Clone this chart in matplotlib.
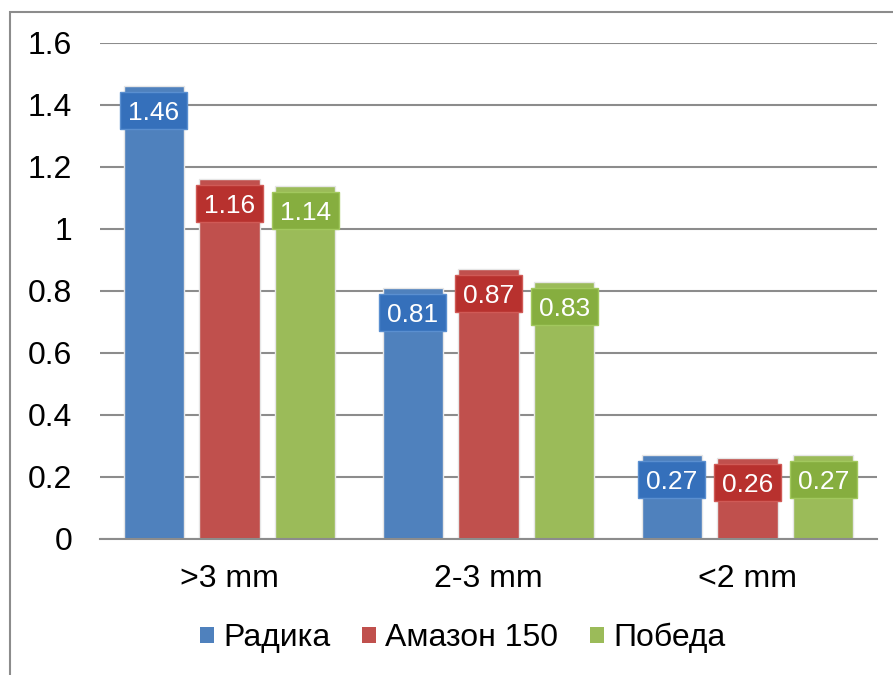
import matplotlib.pyplot as plt
from matplotlib.patches import Rectangle, Patch
import numpy as np

plt.rcParams['font.family'] = ['Liberation Sans', 'DejaVu Sans']

categories = ['>3 mm', '2-3 mm', '<2 mm']
series = ['Радика', 'Амазон 150', 'Победа']
radika = [1.46, 0.81, 0.27]
amazon = [1.16, 0.87, 0.26]
pobeda = [1.14, 0.83, 0.27]
values = [radika, amazon, pobeda]

bar_colors = ['#4f81bd', '#c0504d', '#9bbb59']
box_colors = ['#3570bb', '#b8312e', '#86ae3f']
box_edges = ['#5a8fd0', '#d05a56', '#a2c85e']

fig = plt.figure(figsize=(8.93, 6.75), dpi=100)
ax = fig.add_axes([100/893, 1-539/675, 777/893, 496/675])

# outer frame of the chart area
fig.add_artist(Rectangle((10/893, -0.2), 1.2, 1 - 12/675 + 0.2, transform=fig.transFigure,
                         fill=False, edgecolor='#8c8c8c', linewidth=1.5, clip_on=False))

x = np.arange(len(categories))
width = 0.232
step = 0.293
ymax = 1.6
px_y = ymax / 496   # data units per pixel vertically
box_w = 0.26
box_h = 37 * px_y
box_gap = 6 * px_y

for i in range(3):
    pos = x + (i - 1) * step
    ax.bar(pos, values[i], width, color=bar_colors[i], edgecolor='#e6e6e6', linewidth=1, zorder=3)
    for px, v in zip(pos, values[i]):
        top = v - box_gap
        ax.add_patch(Rectangle((px - box_w / 2, top - box_h), box_w, box_h,
                               facecolor=box_colors[i], edgecolor=box_edges[i], lw=1, zorder=4))
        ax.text(px, top - box_h / 2, f'{v:.2f}', ha='center', va='center_baseline',
                color='white', fontsize=19, zorder=5)

ax.set_xlim(-0.5, 2.5)
ax.set_ylim(0, ymax)
ax.set_yticks(np.arange(0, 1.61, 0.2))
ax.set_yticklabels(['0', '0.2', '0.4', '0.6', '0.8', '1', '1.2', '1.4', '1.6'])
ax.set_xticks(x)
ax.set_xticklabels(categories)
ax.tick_params(axis='both', length=0, labelsize=23)
ax.tick_params(axis='y', pad=20)
ax.tick_params(axis='x', pad=18)
ax.yaxis.grid(True, color='#8c8c8c', linewidth=1.5, zorder=0)
ax.set_axisbelow(True)
for s in ['top', 'right', 'left']:
    ax.spines[s].set_visible(False)
ax.spines['bottom'].set_color('#8c8c8c')
ax.spines['bottom'].set_linewidth(1.5)
ax.spines['bottom'].set_zorder(4)

handles = [Patch(facecolor=c) for c in bar_colors]
fig.legend(handles, series, loc='center', bbox_to_anchor=(463/893, 1-638/675), ncol=3,
           frameon=False, fontsize=23, handlelength=0.42, handleheight=0.42,
           handletextpad=0.3, columnspacing=1.0)

fig.savefig('out.png', dpi=100)
